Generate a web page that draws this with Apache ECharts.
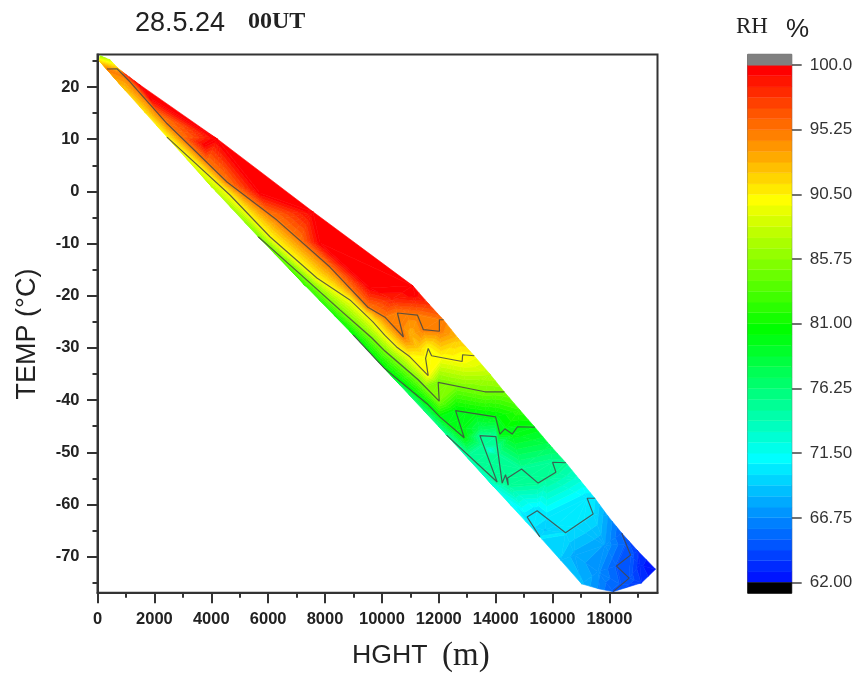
<!DOCTYPE html>
<html><head><meta charset="utf-8">
<style>html,body{margin:0;padding:0;background:#fff}#c{width:858px;height:677px}</style>
<script src="https://cdn.jsdelivr.net/npm/echarts@6/dist/echarts.min.js"></script>
</head><body><div id="c"></div>
<script>
// Tick labels
const hghtMajor = [0,2000,4000,6000,8000,10000,12000,14000,16000,18000];
const hghtMinor = [1000,3000,5000,7000,9000,11000,13000,15000,17000,19000];
const tempMajor = [20,10,0,-10,-20,-30,-40,-50,-60,-70];
const tempMinor = [25,15,5,-5,-15,-25,-35,-45,-55,-65,-75];
const rhTicks = [100,95.25,90.5,85.75,81,76.25,71.5,66.75,62];

// Contour lines: [HGHT, TEMP]
const rh95 = [[334,23.45],[685,23.5],[1142,21.0],[2443,13.0],[4552,1.8],[6309,-5.5],[8172,-14.5],[9508,-22.2],[10106,-24.1],[10756,-27.9],[10545,-23.3],[11248,-23.7],[11459,-26.5],[12021,-26.8],[12021,-24.6],[12162,-24.6]];
const rh90 = [[2443,10.4],[4657,-0.7],[6063,-8.7],[7715,-16.6],[8875,-20.8],[9684,-25.0],[10106,-27.6],[10517,-29.8],[10984,-31.7],[11628,-35.3],[11536,-32.0],[11628,-30.1],[11747,-31.5],[12823,-32.6],[12837,-31.3],[13245,-31.5]];
const rh85 = [[5652,-8.7],[7118,-15.8],[8524,-22.7],[9649,-28.1],[10106,-30.6],[10749,-33.6],[11276,-36.1],[12015,-40.2],[11979,-36.6],[13621,-38.4],[13656,-38.1],[14299,-38.4]];
const rh80 = [[8991,-27.5],[10106,-34.0],[11628,-40.9],[12039,-43.2],[12893,-47.2],[12591,-42.0],[13997,-43.2],[14148,-46.5],[14324,-45.5],[14580,-46.5],[14770,-45.1],[15378,-45.2]];
const rh75 = [[12275,-46.7],[14053,-55.7],[13445,-46.8],[14008,-47.0],[14229,-55.9],[14348,-54.3],[14440,-56.3],[14419,-54.9],[14911,-53.2],[15494,-55.9],[16117,-53.8],[16000,-51.9],[16468,-52.0]];
const rh70 = [[15554,-66.2],[15107,-62.4],[15459,-61.2],[16457,-65.4],[17427,-61.8],[17217,-58.8],[17487,-58.8]];
const rh65 = [[18436,-65.5],[18742,-69.7],[18250,-71.8],[18693,-74.1],[18130,-76.7]];
const contourLines = [[95,rh95],[90,rh90],[85,rh85],[80,rh80],[75,rh75],[70,rh70],[65,rh65]];

// Outline of the sampled region, in order: [HGHT, TEMP, RH]
const outline = [[88,26.0,86],[439,25.2,88],[720,23.6,92],[1002,22.4,98],[1494,20.4,100],[4200,10.1,100],[7575,-3.9,100],[11090,-18.1,100],[11617,-21.4,98],[12162,-24.6,95],[12672,-28.1,92.5],[13245,-31.5,90],[13796,-35.0,87.5],[14299,-38.4,85],[14851,-41.9,82.5],[15378,-45.2,80],[15905,-48.6,77.5],[16468,-52.0,75],[16960,-55.3,72.5],[17487,-58.8,70],[17944,-62.2,67.5],[18436,-65.5,65],[18998,-68.9,63.5],[19620,-72.4,62],[19130,-75.0,63.5],[18130,-76.7,65],[17663,-76.2,66.5],[17020,-75.2,68.5],[16292,-70.7,69],[15554,-66.2,70],[13902,-56.4,72.5],[12275,-46.7,75],[10633,-37.1,77.5],[8991,-27.5,80],[7294,-18.0,82.5],[5652,-8.7,85],[4025,0.8,87.5],[2443,10.4,90],[1670,15.1,91],[967,19.4,92],[63,25.0,91]];

// Interior samples between the contour lines: [HGHT, TEMP, RH]
const interior = [[1846,17.9,99.8],[3779,8.9,99.8],[5712,-0.3,99.8],[7821,-9.9,99.8],[9578,-18.5,99.8],[10352,-20.6,98.5],[11161,-20.0,99.5],[11046,-27.5,93],[11266,-30.0,92],[13445,-45.3,77.5],[13797,-49.6,72.5],[15730,-64.9,69],[16784,-69.7,68],[17592,-72.9,67],[17839,-67.8,67.5],[19070,-71.6,63]];

// --- colour scale
const RH_MIN = 62, RH_MAX = 100, BANDS = 48, STEP = (RH_MAX - RH_MIN) / BANDS;
function ramp(v) {
  const stops = [[62,[0,0,255]],[71.5,[0,255,255]],[81,[0,255,0]],[90.5,[255,255,0]],[100,[255,0,0]]];
  for (let i = 0; i < 4; i++) {
    const [a, ca] = stops[i], [b, cb] = stops[i + 1];
    if (v <= b + 1e-9) {
      const t = (v - a) / (b - a);
      return 'rgb(' + ca.map((c, k) => Math.round(c + (cb[k] - c) * t)).join(',') + ')';
    }
  }
  return 'rgb(255,0,0)';
}
const bandLows = [];
for (let i = 0; i < BANDS; i++) bandLows.push(RH_MIN + i * STEP);

// --- triangulate the samples (Delaunay, in a square-ish metric)
const SX = 35.15, SY = 0.1916;
function buildTriangles() {
  const nodes = [];
  const add = (h, t, v) => {
    const x = h / SX, y = t / SY;
    for (const n of nodes) if (Math.hypot(n.x - x, n.y - y) < 1.2) return;
    nodes.push({ x, y, h, t, v });
  };
  outline.forEach(p => add(p[0], p[1], p[2]));
  contourLines.forEach(([lvl, pts]) => {
    pts.forEach((p, i) => {
      add(p[0], p[1], lvl);
      if (i + 1 < pts.length) {
        const q = pts[i + 1];
        const d = Math.hypot((q[0] - p[0]) / SX, (q[1] - p[1]) / SY);
        const m = Math.floor(d / 9);
        for (let k = 1; k < m; k++) add(p[0] + (q[0] - p[0]) * k / m, p[1] + (q[1] - p[1]) * k / m, lvl);
      }
    });
  });
  interior.forEach(p => add(p[0], p[1], p[2]));
  const P = nodes.map((n, i) => [n.x + ((i * 7) % 11) * 0.004, n.y + ((i * 5) % 13) * 0.004]);
  const n0 = P.length;
  P.push([-5000, -5000], [8000, -5000], [1000, 9000]);
  const circ = (a, b, c) => {
    const [ax, ay] = P[a], [bx, by] = P[b], [cx, cy] = P[c];
    const d = 2 * (ax * (by - cy) + bx * (cy - ay) + cx * (ay - by));
    const A = ax * ax + ay * ay, B = bx * bx + by * by, C = cx * cx + cy * cy;
    const ux = (A * (by - cy) + B * (cy - ay) + C * (ay - by)) / d;
    const uy = (A * (cx - bx) + B * (ax - cx) + C * (bx - ax)) / d;
    return { a, b, c, ux, uy, r: (ax - ux) ** 2 + (ay - uy) ** 2 };
  };
  let tris = [circ(n0, n0 + 1, n0 + 2)];
  for (let i = 0; i < n0; i++) {
    const [x, y] = P[i], bad = [], keep = [];
    tris.forEach(t => ((x - t.ux) ** 2 + (y - t.uy) ** 2 < t.r ? bad : keep).push(t));
    const edges = new Map();
    bad.forEach(t => [[t.a, t.b], [t.b, t.c], [t.c, t.a]].forEach(([u, w]) => {
      const k = u < w ? u + '_' + w : w + '_' + u;
      edges.set(k, edges.has(k) ? null : [u, w]);
    }));
    edges.forEach(e => { if (e) keep.push(circ(e[0], e[1], i)); });
    tris = keep;
  }
  const ring = outline.map(p => [p[0] / SX, p[1] / SY]);
  const inside = (x, y) => {
    let c = false;
    for (let i = 0, j = ring.length - 1; i < ring.length; j = i++) {
      const [xi, yi] = ring[i], [xj, yj] = ring[j];
      if ((yi > y) !== (yj > y) && x < (xj - xi) * (y - yi) / (yj - yi) + xi) c = !c;
    }
    return c;
  };
  return tris.filter(t => t.a < n0 && t.b < n0 && t.c < n0).filter(t => {
    const A = nodes[t.a], B = nodes[t.b], C = nodes[t.c];
    return inside((A.x + B.x + C.x) / 3, (A.y + B.y + C.y) / 3);
  }).map(t => {
    const A = nodes[t.a], B = nodes[t.b], C = nodes[t.c];
    return [A.h, A.t, A.v, B.h, B.t, B.v, C.h, C.t, C.v];
  });
}

function clipBand(poly, lo, hi) {
  const cut = (pts, lim, keepAbove) => {
    const out = [];
    for (let i = 0; i < pts.length; i++) {
      const a = pts[i], b = pts[(i + 1) % pts.length];
      const ia = keepAbove ? a[2] >= lim : a[2] <= lim;
      const ib = keepAbove ? b[2] >= lim : b[2] <= lim;
      if (ia) out.push(a);
      if (ia !== ib) {
        const t = (lim - a[2]) / (b[2] - a[2]);
        out.push([a[0] + (b[0] - a[0]) * t, a[1] + (b[1] - a[1]) * t, lim]);
      }
    }
    return out;
  };
  return cut(cut(poly, lo, true), hi, false);
}

function renderTri(params, api) {
  const tri = [0, 3, 6].map(i => {
    const c = api.coord([api.value(i), api.value(i + 1)]);
    return [c[0], c[1], api.value(i + 2)];
  });
  const children = [];
  bandLows.forEach(lo => {
    const hi = lo + STEP;
    const vs = tri.map(p => p[2]);
    if (Math.max(...vs) < lo || Math.min(...vs) > hi) return;
    const pts = clipBand(tri, lo, hi);
    if (pts.length < 3) return;
    const col = ramp(hi);
    children.push({ type: 'polygon', shape: { points: pts.map(p => [p[0], p[1]]) },
      style: { fill: col, stroke: col, lineWidth: 0.6 } });
  });
  return { type: 'group', children };
}

function renderBar(params, api) {
  const lo = api.value(0), hi = api.value(1);
  const a = api.coord([0, hi]), b = api.coord([1, lo]);
  const col = api.value(2) === 1 ? '#808080' : api.value(2) === 2 ? '#000' : ramp(hi);
  return { type: 'rect', shape: { x: a[0], y: Math.round(a[1] * 2) / 2, width: b[0] - a[0], height: b[1] - a[1] },
    style: { fill: col, stroke: col, lineWidth: 0.5 } };
}
const barData = bandLows.map(l => [l, l + STEP, 0]).concat([[RH_MIN - STEP, RH_MIN, 2], [RH_MAX, RH_MAX + STEP, 1]]);

const INK = '#333';
const bold = { fontFamily: 'Liberation Sans', fontWeight: 'bold', fontSize: 16.5, color: '#222', formatter: v => String(v) };
const chart = echarts.init(document.getElementById('c'), null, { renderer: 'canvas' });
const xMax = 19690, yMin = -76.9, yMax = 26.23;
const txt = (text, x, y, font, extra) => ({ type: 'text', x, y, rotation: (extra && extra.rotation) || 0,
  style: Object.assign({ text, font, fill: '#222', align: 'left', verticalAlign: 'middle' }, extra && extra.style) });

chart.setOption({
  animation: false,
  backgroundColor: '#fff',
  grid: [
    { left: 97.5, top: 54.5, width: 560, height: 538.2, show: true, borderColor: INK, borderWidth: 2, backgroundColor: '#fff' },
    { left: 747.7, top: 54.3, width: 44, height: 539, show: true, borderColor: '#555', borderWidth: 1 }
  ],
  xAxis: [
    { type: 'value', gridIndex: 0, position: 'bottom', min: 0, max: xMax, splitLine: { show: false },
      axisLine: { onZero: false, lineStyle: { color: INK, width: 2 } },
      axisTick: { length: 10.5, lineStyle: { color: INK, width: 2 }, customValues: hghtMajor },
      axisLabel: Object.assign({ margin: 18, customValues: hghtMajor }, bold) },
    { type: 'value', gridIndex: 0, position: 'bottom', min: 0, max: xMax, splitLine: { show: false },
      axisLine: { show: false, onZero: false }, axisLabel: { show: false },
      axisTick: { length: 5, lineStyle: { color: INK, width: 2 }, customValues: hghtMinor } },
    { type: 'value', gridIndex: 1, min: 0, max: 1, show: false }
  ],
  yAxis: [
    { type: 'value', gridIndex: 0, position: 'left', min: yMin, max: yMax, splitLine: { show: false },
      axisLine: { onZero: false, lineStyle: { color: INK, width: 2 } },
      axisTick: { length: 10.5, lineStyle: { color: INK, width: 2 }, customValues: tempMajor },
      axisLabel: Object.assign({ margin: 18, customValues: tempMajor }, bold) },
    { type: 'value', gridIndex: 0, position: 'left', min: yMin, max: yMax, splitLine: { show: false },
      axisLine: { show: false, onZero: false }, axisLabel: { show: false },
      axisTick: { length: 5, lineStyle: { color: INK, width: 2 }, customValues: tempMinor } },
    { type: 'value', gridIndex: 1, position: 'right', min: RH_MIN - STEP, max: RH_MAX + STEP, splitLine: { show: false },
      axisLine: { show: false, onZero: false },
      axisTick: { length: 10, lineStyle: { color: '#444', width: 1.5 }, customValues: rhTicks },
      axisLabel: { margin: 18, customValues: rhTicks, fontFamily: 'Liberation Sans', fontSize: 17, color: '#333',
        formatter: v => v === 100 ? '100.0' : Number(v).toFixed(2) } }
  ],
  series: [
    { type: 'custom', xAxisIndex: 0, yAxisIndex: 0, renderItem: renderTri, data: buildTriangles(), silent: true, clip: true, z: 2 }
  ].concat(contourLines.map(([lvl, pts]) => ({
    type: 'line', name: 'RH ' + lvl, xAxisIndex: 0, yAxisIndex: 0, data: pts, showSymbol: false, silent: true, z: 3,
    lineStyle: { color: '#454545', width: 1.2, opacity: 0.85 }
  }))).concat([
    { type: 'custom', xAxisIndex: 2, yAxisIndex: 2, renderItem: renderBar, data: barData, silent: true, z: 2 }
  ]),
  graphic: { elements: [
    txt('28.5.24', 135, 24, '27px "Liberation Sans"'),
    txt('00UT', 248, 22, 'bold 24px "Liberation Serif"'),
    txt('RH', 736, 27, '23px "Liberation Serif"'),
    txt('%', 786, 30, '26px "Liberation Sans"'),
    txt('HGHT', 352, 656, '26.7px "Liberation Sans"'),
    txt('(m)', 442, 656, '33px "Liberation Serif"'),
    txt('TEMP (°C)', 28, 334, '27px "Liberation Sans"', { rotation: Math.PI / 2, style: { align: 'center' } })
  ] }
});
</script></body></html>
